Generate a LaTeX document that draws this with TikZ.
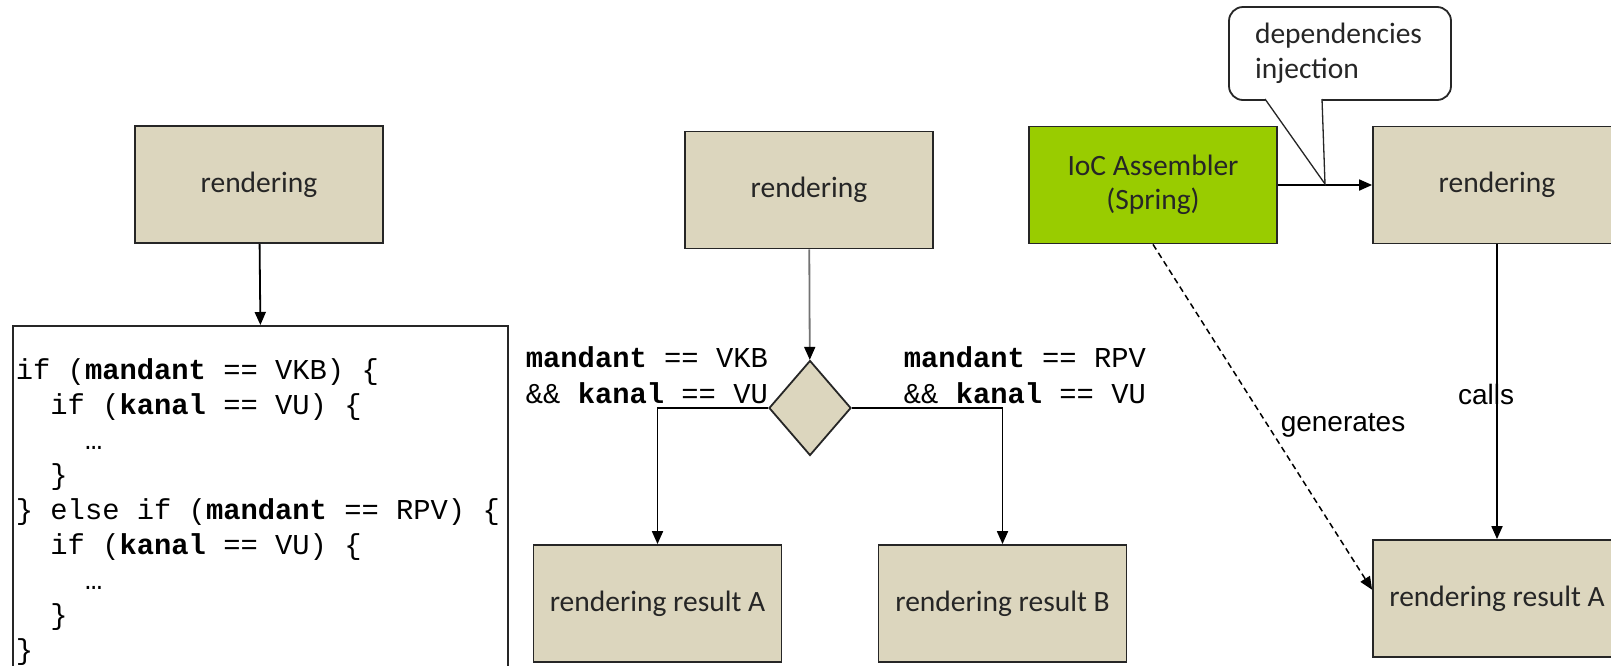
\documentclass[tikz,border=0pt]{standalone}
\usepackage{fontspec}
\usetikzlibrary{arrows.meta,shapes.geometric}
\newfontfamily\boxfont{Carlito}
\newfontfamily\lblfont{Liberation Sans}
\newfontfamily\codefont{Liberation Mono}
\definecolor{boxtan}{RGB}{220,214,190}
\definecolor{iocgreen}{RGB}{153,204,0}

\begin{document}
\begin{tikzpicture}[x=1pt, y=-1pt, line width=1.8pt, >={Triangle[length=13pt,width=11pt]}]
    \tikzstyle{box}=[draw=black!85, fill=boxtan, minimum width=248, minimum height=117, align=center, text=black!85, font=\boxfont\fontsize{29.5}{34}\selectfont]
    \tikzstyle{codeline}=[anchor=base west, inner sep=0, font=\codefont\fontsize{28.8}{35}\selectfont]
    \tikzstyle{lbl}=[inner sep=0, font=\lblfont\fontsize{28}{32}\selectfont]

    \useasboundingbox (0,0) rectangle (1611,665);
    \clip (0,0) rectangle (1611,665);

    % left: everything in one place
    \node (rend-1) at (259,184.5) [box] {rendering};
    \node (code) at (12,325) [anchor=north west, draw=black!85, fill=white, minimum width=495, minimum height=400] {};
    \foreach \y/\row in {0/{if (\textbf{mandant} == VKB) \{},
                         1/{\ \ if (\textbf{kanal} == VU) \{},
                         2/{\ \ \ \ …},
                         3/{\ \ \}},
                         4/{\} else if (\textbf{mandant} == RPV) \{},
                         5/{\ \ if (\textbf{kanal} == VU) \{},
                         6/{\ \ \ \ …},
                         7/{\ \ \}},
                         8/{\}}}
        \node (line-\y) at (15, 379+35*\y) [codeline] {\row};

    \draw [->] (rend-1) to (code.north);

    % middle: decision
    \node (rend-2) at (809,190) [box] {rendering};
    \node (dec) at (810,408) [diamond, draw=black!85, fill=boxtan, minimum width=82, minimum height=95, inner sep=0] {};
    \node (res-a-1) at (657.5,603.5) [box] {rendering result A};
    \node (res-b-1) at (1002.5,603.5) [box] {rendering result B};

    \node (cond-l-1) at (525,367) [codeline] {\textbf{mandant} == VKB};
    \node (cond-l-2) at (525,403) [codeline] {\&\& \textbf{kanal} == VU};
    \node (cond-r-1) at (903,367) [codeline] {\textbf{mandant} == RPV};
    \node (cond-r-2) at (903,403) [codeline] {\&\& \textbf{kanal} == VU};

    \draw [-{Triangle[length=13pt,width=11pt,color=black]}, draw=black!55] (rend-2) to (dec);
    \draw [->] (dec.west) -| (res-a-1.north);
    \draw [->] (dec.east) -| (res-b-1.north);

    % right: IoC
    \node (ioc) at (1153,185) [box, fill=iocgreen] {IoC Assembler\\(Spring)};
    \node (rend-3) at (1497,185) [box] {rendering};
    \node (res-a-2) at (1497,598.5) [box] {rendering result A};

    \draw [->] (ioc) to (rend-3);
    \draw [->] (rend-3) to node [lbl, pos=0.51, xshift=-11] {calls} (res-a-2);
    \draw [->, line width=1.5pt, dash pattern=on 6pt off 4pt] (ioc.south) to node [lbl, pos=0.525, anchor=west, xshift=12] {generates} (res-a-2.176);

    % callout
    \node (inj) at (1340,53.5) [draw=black!85, fill=white, rounded corners=14, minimum width=222, minimum height=93, text width=170, inner xsep=26, align=left, text=black!85, font=\boxfont\fontsize{29.5}{35}\selectfont] {dependencies\\injection};
    \coordinate (tip) at (1325,184);
    \draw [draw=black!85, fill=white, line width=1.3pt] (1265,99) -- (tip) -- (1322,99);

\end{tikzpicture}
\end{document}
